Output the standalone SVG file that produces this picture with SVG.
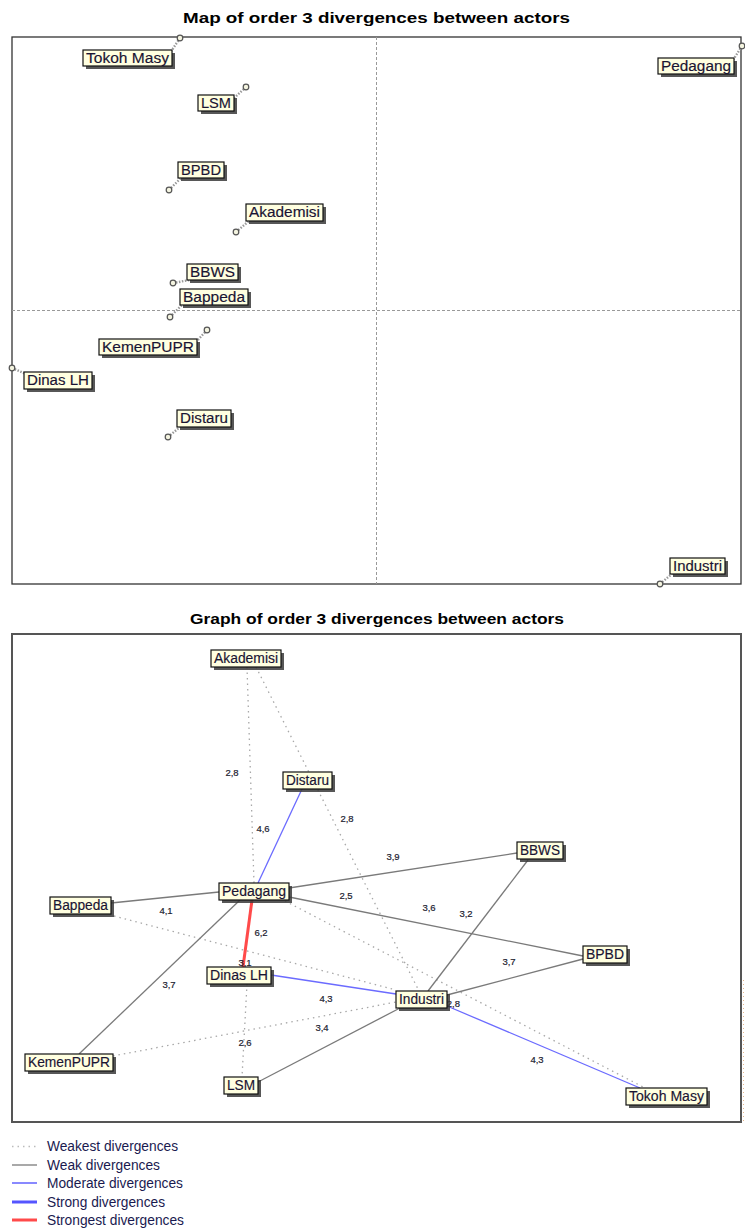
<svg xmlns="http://www.w3.org/2000/svg" width="745" height="1232" viewBox="0 0 745 1232">
<defs>
<style>
.title{font-family:"Liberation Sans",Arial,sans-serif;font-weight:bold;font-size:15px;fill:#000}
.frame{fill:none;stroke:#333;stroke-width:1.3}
.frame2{fill:none;stroke:#555;stroke-width:2}
.axis{stroke:#999;stroke-width:1;stroke-dasharray:3 2}
.shadow{fill:#3a3a3a;opacity:0.85}
.box{fill:#ffffe0;stroke:#111;stroke-width:1.2}
.lbl{font-family:"Liberation Sans",Arial,sans-serif;font-size:14px;fill:#1a1433;stroke:#1a1433;stroke-width:0.15}
.pt{fill:#f4f4e0;stroke:#555;stroke-width:1.2}
.lead{stroke:#9a9a9a;stroke-width:2.4;stroke-dasharray:1.5 1.5;fill:none}
.weakest{stroke:#a8a8a8;stroke-width:1.3;stroke-dasharray:1.5 4;fill:none}
.weak{stroke:#7a7a7a;stroke-width:1.3;fill:none}
.moderate{stroke:#6b6bff;stroke-width:1.3;fill:none}
.strong{stroke:#5555ff;stroke-width:3;fill:none}
.strongest{stroke:#ff4a4a;stroke-width:3;fill:none}
.val{font-family:"Liberation Sans",Arial,sans-serif;font-size:9.5px;fill:#1c1c30;stroke:#1c1c30;stroke-width:0.2;text-anchor:middle}
.leg{font-family:"Liberation Sans",Arial,sans-serif;font-size:14px;fill:#1a1a50}
</style>
</defs>
<rect width="745" height="1232" fill="#fff"/>

<!-- ===== MAP ===== -->
<text class="title" x="183" y="23" textLength="387" lengthAdjust="spacingAndGlyphs">Map of order 3 divergences between actors</text>
<rect class="frame" x="12" y="37" width="729" height="547"/>
<line class="axis" x1="376.5" y1="37" x2="376.5" y2="584"/>
<line class="axis" x1="12" y1="310.5" x2="741" y2="310.5"/>

<g id="map-leaders">
<line class="lead" x1="180" y1="38" x2="170" y2="53"/>
<line class="lead" x1="246" y1="87" x2="233" y2="99"/>
<line class="lead" x1="169" y1="190" x2="181" y2="178"/>
<line class="lead" x1="236" y1="232" x2="249" y2="221"/>
<line class="lead" x1="173" y1="283" x2="190" y2="280"/>
<line class="lead" x1="170" y1="317" x2="182" y2="305"/>
<line class="lead" x1="207" y1="330" x2="196" y2="342"/>
<line class="lead" x1="12" y1="368" x2="26" y2="374"/>
<line class="lead" x1="168" y1="437" x2="180" y2="427"/>
<line class="lead" x1="742" y1="46" x2="733" y2="60"/>
<line class="lead" x1="660" y1="584" x2="673" y2="573"/>
</g>

<g id="map-tokoh-masy"><circle class="pt" cx="180" cy="38" r="2.8"/><rect class="shadow" x="86" y="53" width="89" height="16"/><rect class="box" x="83" y="50" width="89" height="16"/><text class="lbl" x="86" y="63" textLength="83" lengthAdjust="spacingAndGlyphs">Tokoh Masy</text></g>
<g id="map-lsm"><circle class="pt" cx="246" cy="87" r="2.8"/><rect class="shadow" x="201" y="98" width="36" height="16"/><rect class="box" x="198" y="95" width="36" height="16"/><text class="lbl" x="201" y="108" textLength="30" lengthAdjust="spacingAndGlyphs">LSM</text></g>
<g id="map-bpbd"><circle class="pt" cx="169" cy="190" r="2.8"/><rect class="shadow" x="181" y="165" width="46" height="16"/><rect class="box" x="178" y="162" width="46" height="16"/><text class="lbl" x="181" y="175" textLength="40" lengthAdjust="spacingAndGlyphs">BPBD</text></g>
<g id="map-akademisi"><circle class="pt" cx="236" cy="232" r="2.8"/><rect class="shadow" x="249" y="207" width="77" height="17"/><rect class="box" x="246" y="204" width="77" height="17"/><text class="lbl" x="249" y="217" textLength="71" lengthAdjust="spacingAndGlyphs">Akademisi</text></g>
<g id="map-bbws"><circle class="pt" cx="173" cy="283" r="2.8"/><rect class="shadow" x="190" y="267" width="51" height="16"/><rect class="box" x="187" y="264" width="51" height="16"/><text class="lbl" x="190" y="277" textLength="45" lengthAdjust="spacingAndGlyphs">BBWS</text></g>
<g id="map-bappeda"><circle class="pt" cx="170" cy="317" r="2.8"/><rect class="shadow" x="183" y="292" width="68" height="16"/><rect class="box" x="180" y="289" width="68" height="16"/><text class="lbl" x="183" y="302" textLength="62" lengthAdjust="spacingAndGlyphs">Bappeda</text></g>
<g id="map-kemenpupr"><circle class="pt" cx="207" cy="330" r="2.8"/><rect class="shadow" x="102" y="342" width="98" height="16"/><rect class="box" x="99" y="339" width="98" height="16"/><text class="lbl" x="102" y="352" textLength="92" lengthAdjust="spacingAndGlyphs">KemenPUPR</text></g>
<g id="map-dinas-lh"><circle class="pt" cx="12" cy="368" r="2.8"/><rect class="shadow" x="27" y="375" width="68" height="17"/><rect class="box" x="24" y="372" width="68" height="17"/><text class="lbl" x="27" y="385" textLength="62" lengthAdjust="spacingAndGlyphs">Dinas LH</text></g>
<g id="map-distaru"><circle class="pt" cx="168" cy="437" r="2.8"/><rect class="shadow" x="180" y="413" width="54" height="17"/><rect class="box" x="177" y="410" width="54" height="17"/><text class="lbl" x="180" y="423" textLength="48" lengthAdjust="spacingAndGlyphs">Distaru</text></g>
<g id="map-pedagang"><circle class="pt" cx="742" cy="46" r="2.8"/><rect class="shadow" x="661" y="61" width="76" height="16"/><rect class="box" x="658" y="58" width="76" height="16"/><text class="lbl" x="661" y="71" textLength="70" lengthAdjust="spacingAndGlyphs">Pedagang</text></g>
<g id="map-industri"><circle class="pt" cx="660" cy="584" r="2.8"/><rect class="shadow" x="673" y="561" width="55" height="16"/><rect class="box" x="670" y="558" width="55" height="16"/><text class="lbl" x="673" y="571" textLength="49" lengthAdjust="spacingAndGlyphs">Industri</text></g>

<!-- ===== GRAPH ===== -->
<text class="title" x="190" y="624" font-size="16" textLength="374" lengthAdjust="spacingAndGlyphs">Graph of order 3 divergences between actors</text>
<rect class="frame2" x="12" y="634" width="729" height="488"/>

<g id="connectors">
<line class="weakest" x1="247" y1="667" x2="254" y2="883"/>
<line class="weakest" x1="256" y1="667" x2="419" y2="991"/>
<line class="weakest" x1="114" y1="916" x2="396" y2="990"/>
<line class="weakest" x1="285" y1="901" x2="645" y2="1088"/>
<line class="weakest" x1="113" y1="1056" x2="396" y2="1002"/>
<line class="weakest" x1="247" y1="984" x2="242" y2="1077"/>
<line class="weak" x1="111" y1="903" x2="219" y2="892"/>
<line class="weak" x1="289" y1="888" x2="517" y2="853"/>
<line class="weak" x1="289" y1="897" x2="583" y2="956"/>
<line class="weak" x1="240" y1="900" x2="79" y2="1054"/>
<line class="weak" x1="528" y1="860" x2="428" y2="991"/>
<line class="weak" x1="583" y1="959" x2="447" y2="995"/>
<line class="weak" x1="258" y1="1082" x2="400" y2="1008"/>
<line class="moderate" x1="302" y1="789" x2="258" y2="883"/>
<line class="moderate" x1="271" y1="975" x2="396" y2="994"/>
<line class="moderate" x1="447" y1="1006" x2="640" y2="1088"/>
<line class="strongest" x1="252" y1="900" x2="243" y2="967"/>
</g>

<g id="values">
<text class="val" x="232" y="776">2,8</text>
<text class="val" x="263" y="832">4,6</text>
<text class="val" x="347" y="822">2,8</text>
<text class="val" x="393" y="860">3,9</text>
<text class="val" x="346" y="899">2,5</text>
<text class="val" x="429" y="911">3,6</text>
<text class="val" x="466" y="917">3,2</text>
<text class="val" x="166" y="914">4,1</text>
<text class="val" x="261" y="936">6,2</text>
<text class="val" x="245" y="966">3,1</text>
<text class="val" x="169" y="988">3,7</text>
<text class="val" x="509" y="965">3,7</text>
<text class="val" x="326" y="1002">4,3</text>
<text class="val" x="322" y="1031">3,4</text>
<text class="val" x="245" y="1046">2,6</text>
<text class="val" x="537" y="1063">4,3</text>
<text class="val" x="460" y="1007" style="text-anchor:end">2,8</text>
</g>

<g id="akademisi"><rect class="shadow" x="214" y="653" width="70" height="17"/><rect class="box" x="211" y="650" width="70" height="17"/><text class="lbl" x="214" y="663" textLength="64" lengthAdjust="spacingAndGlyphs">Akademisi</text></g>
<g id="distaru"><rect class="shadow" x="286" y="775" width="49" height="17"/><rect class="box" x="283" y="772" width="49" height="17"/><text class="lbl" x="286" y="785" textLength="43" lengthAdjust="spacingAndGlyphs">Distaru</text></g>
<g id="pedagang"><rect class="shadow" x="222" y="886" width="70" height="17"/><rect class="box" x="219" y="883" width="70" height="17"/><text class="lbl" x="222" y="896" textLength="64" lengthAdjust="spacingAndGlyphs">Pedagang</text></g>
<g id="bappeda"><rect class="shadow" x="53" y="900" width="61" height="17"/><rect class="box" x="50" y="897" width="61" height="17"/><text class="lbl" x="53" y="910" textLength="55" lengthAdjust="spacingAndGlyphs">Bappeda</text></g>
<g id="dinas-lh"><rect class="shadow" x="210" y="970" width="64" height="17"/><rect class="box" x="207" y="967" width="64" height="17"/><text class="lbl" x="210" y="980" textLength="58" lengthAdjust="spacingAndGlyphs">Dinas LH</text></g>
<g id="kemenpupr"><rect class="shadow" x="28" y="1057" width="88" height="17"/><rect class="box" x="25" y="1054" width="88" height="17"/><text class="lbl" x="28" y="1067" textLength="82" lengthAdjust="spacingAndGlyphs">KemenPUPR</text></g>
<g id="lsm"><rect class="shadow" x="227" y="1080" width="34" height="17"/><rect class="box" x="224" y="1077" width="34" height="17"/><text class="lbl" x="227" y="1090" textLength="28" lengthAdjust="spacingAndGlyphs">LSM</text></g>
<g id="bbws"><rect class="shadow" x="520" y="845" width="46" height="17"/><rect class="box" x="517" y="842" width="46" height="17"/><text class="lbl" x="520" y="855" textLength="40" lengthAdjust="spacingAndGlyphs">BBWS</text></g>
<g id="bpbd"><rect class="shadow" x="586" y="949" width="44" height="17"/><rect class="box" x="583" y="946" width="44" height="17"/><text class="lbl" x="586" y="959" textLength="38" lengthAdjust="spacingAndGlyphs">BPBD</text></g>
<g id="industri"><rect class="shadow" x="399" y="994" width="51" height="17"/><rect class="box" x="396" y="991" width="51" height="17"/><text class="lbl" x="399" y="1004" textLength="45" lengthAdjust="spacingAndGlyphs">Industri</text></g>
<g id="tokoh-masy"><rect class="shadow" x="629" y="1091" width="81" height="17"/><rect class="box" x="626" y="1088" width="81" height="17"/><text class="lbl" x="629" y="1101" textLength="75" lengthAdjust="spacingAndGlyphs">Tokoh Masy</text></g>

<line x1="743.5" y1="980" x2="743.5" y2="1121" stroke="#d8935a" stroke-width="1" stroke-dasharray="1 3" opacity="0.7"/>

<!-- ===== LEGEND ===== -->
<g id="legend">
<line class="weakest" x1="12" y1="1146.5" x2="37" y2="1146.5" style="stroke:#bbb"/>
<line class="weak" x1="12" y1="1165" x2="37" y2="1165"/>
<line class="moderate" x1="12" y1="1183" x2="37" y2="1183" style="stroke:#4a4aff"/>
<line class="strong" x1="12" y1="1202" x2="37" y2="1202"/>
<line class="strongest" x1="12" y1="1220" x2="37" y2="1220"/>
<text class="leg" x="47" y="1151" textLength="131" lengthAdjust="spacingAndGlyphs">Weakest divergences</text>
<text class="leg" x="47" y="1170" textLength="113" lengthAdjust="spacingAndGlyphs">Weak divergences</text>
<text class="leg" x="47" y="1188" textLength="136" lengthAdjust="spacingAndGlyphs">Moderate divergences</text>
<text class="leg" x="47" y="1207" textLength="118" lengthAdjust="spacingAndGlyphs">Strong divergences</text>
<text class="leg" x="47" y="1225" textLength="137" lengthAdjust="spacingAndGlyphs">Strongest divergences</text>
</g>
</svg>
